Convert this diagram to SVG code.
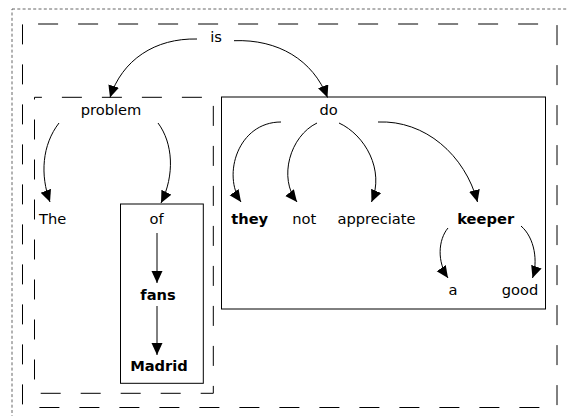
<svg xmlns="http://www.w3.org/2000/svg" width="568" height="416" viewBox="0 0 568 416">
<defs>
<style>
.t{font-family:"DejaVu Sans","Liberation Sans",sans-serif;font-size:14.67px;fill:#000;text-anchor:middle}
.b{font-weight:bold}
.e{fill:none;stroke:#000;stroke-width:1;marker-end:url(#ah)}
.dash{fill:none;stroke:#000;stroke-width:1;stroke-dasharray:20 20}
.solid{fill:none;stroke:#000;stroke-width:1}
</style>
<marker id="ah" markerUnits="userSpaceOnUse" markerWidth="13" markerHeight="12" refX="12" refY="5.5" orient="auto">
<path d="M0,0 L12,5.5 L0,11 z" fill="#000"/>
</marker>
</defs>
<rect x="12" y="9" width="600" height="450" fill="none" stroke="#666" stroke-width="1" stroke-dasharray="3 2.3"/>
<g id="boxes">
<rect id="box-is" class="dash" x="22.5" y="24" width="534.5" height="383.5" stroke-dashoffset="24.4"/>
<rect id="box-problem" class="dash" x="34.5" y="97.3" width="178.8" height="296" stroke-dashoffset="12.6"/>
<rect id="box-do" class="solid" x="221.5" y="97" width="324" height="212"/>
<rect id="box-of" class="solid" x="120.5" y="204" width="82.8" height="179.3"/>
</g>
<g id="connectors">
<path class="e" d="M197,39 C155,38 122,60 110,97.5"/>
<path class="e" d="M234,40.7 C278,39 313,60 327.5,97.5"/>
<path class="e" d="M59,123 C42,145 40,175 50,202"/>
<path class="e" d="M158,123 C173,143 175,175 161,203"/>
<path class="e" d="M281,122 C238,122 222,175 241,202"/>
<path class="e" d="M317,123 C290,136 278,178 297,202"/>
<path class="e" d="M339,123 C365,135 385,170 371.5,202"/>
<path class="e" d="M378,122 C425,120 465,155 477.5,202"/>
<path class="e" d="M448,228 C438,240 437,262 448,278"/>
<path class="e" d="M521,226 C535,238 538,262 532.5,278"/>
<path class="e" d="M157,233 L157,283"/>
<path class="e" d="M157,306 L157,355"/>
</g>
<g id="n-is"><text class="t" x="216" y="42">is</text></g>
<g id="n-problem"><text class="t" x="111" y="115">problem</text></g>
<g id="n-do"><text class="t" x="328.7" y="115">do</text></g>
<g id="n-The"><text class="t" x="39" y="224" style="text-anchor:start">The</text></g>
<g id="n-of"><text class="t" x="156.5" y="224">of</text></g>
<g id="n-fans"><text class="t b" x="158" y="300">fans</text></g>
<g id="n-Madrid"><text class="t b" x="159" y="371">Madrid</text></g>
<g id="n-they"><text class="t b" x="249.7" y="224">they</text></g>
<g id="n-not"><text class="t" x="304.3" y="224">not</text></g>
<g id="n-appreciate"><text class="t" x="376.5" y="224">appreciate</text></g>
<g id="n-keeper"><text class="t b" x="485.7" y="224">keeper</text></g>
<g id="n-a"><text class="t" x="453" y="295">a</text></g>
<g id="n-good"><text class="t" x="520" y="295">good</text></g>
</svg>
